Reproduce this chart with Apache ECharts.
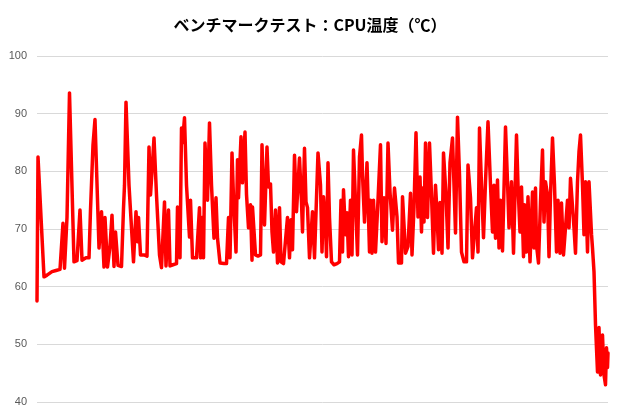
<!DOCTYPE html>
<html><head><meta charset="utf-8">
<script src="https://cdn.jsdelivr.net/npm/echarts@6/dist/echarts.min.js"></script>
<style>html,body{margin:0;padding:0;background:#fff}#c{width:620px;height:415px}</style>
</head><body><div id="c"></div>
<script>
const titleText = 'ベンチマークテスト：CPU温度（℃）';
const yTicks = [40, 50, 60, 70, 80, 90, 100];
const timeSec = [0,2,14,20,30,38,46,50,52,55,58,60,65,74,80,84,86,90,98,104,107,112,116,124,129,134,136,141,146,150,154,157,162,169,173,175,178,184,193,198,201,203,207,214,220,224,227,230,234,239,245,249,255,258,263,266,272,279,281,286,289,291,295,299,305,307,311,319,325,327,330,333,336,341,345,349,354,358,361,366,374,379,383,386,390,393,398,401,403,408,411,416,419,423,427,430,431,437,442,447,450,455,460,463,467,470,473,477,481,485,488,493,497,501,505,508,511,515,519,525,529,531,535,538,541,545,548,551,555,559,562,567,570,573,577,579,582,585,589,594,600,605,608,611,613,617,620,623,627,630,633,637,641,645,649,651,655,660,665,667,670,673,677,682,687,690,694,698,702,706,711,715,720,723,729,731,737,742,747,750,754,758,762,766,769,771,774,777,781,785,789,793,797,799,803,806,810,813,818,822,826,831,834,837,841,845,849,854,859,862,867,871,875,879,882,885,889,893,897,902,907,911,914,917,921,924,927,931,934,937,941,944,949,953,959,962,966,969,973,975,979,982,986,989,991,994,997,999,1003,1007,1011,1014,1017,1021,1024,1027,1031,1035,1039,1042,1046,1049,1053,1057,1061,1064,1067,1071,1074,1077,1081,1084,1087,1091,1094,1097,1101,1104,1109,1111,1114,1117,1121,1124,1127,1131,1134,1137,1139,1141,1142];
const cpuTemp = [57.5,82.5,61.7,62.0,62.6,62.8,63.0,63.2,71,63.2,63.5,72,93.6,64.3,64.5,64.6,73.3,64.6,65,65,73.3,84.6,89,66.7,73,63.4,72,63.4,67,72.4,63.5,69.5,63.7,63.5,73.6,77.6,92,77.6,64.3,73,67.8,72,65.5,65.5,65.3,84.2,75.9,80,85.8,75.9,65.5,63.3,74.7,63.6,73.3,63.6,63.8,64,73.8,65,87.5,85,89.3,77.6,68.6,75,65,65,73.7,65,72,65,84.9,75,88.4,77.6,68.4,75.4,68.4,64.1,64,64,72,65,83.2,75.4,66,82,75.4,86,78,86.8,76,70.2,74.2,64.6,73.8,65.5,65.3,65.5,84.6,70.7,84.2,77.3,77.8,69.5,66,73.3,64.1,73.7,64.3,64,64,72,65,71.6,66.4,82.8,73,82.3,74.7,69.5,84,74.7,73.7,65,65,73,65,65.2,83.2,77.6,66,75.6,70.7,65.2,81.5,72,64.3,63.8,64,64.3,75,66,76.8,69,72.8,65.2,75,65.5,83.7,74.7,65.5,82.5,86.3,79.4,71.2,81.5,66,75,65.8,75,66,75,84.6,67.8,75.4,67.5,84.9,76.4,69.8,77.1,72.1,64.1,64.1,75.6,65.8,67,76.2,65.5,73.8,86.7,72.1,79,69.5,77.1,71.2,84.9,72,84.9,75.9,65.8,77.6,74.5,66.4,74.6,65.8,83.2,75.9,66.7,81.5,85.8,77.6,69.3,89.4,79.4,66,64.3,64.3,81.1,75.4,65,65,73.7,66,87.5,77.6,68.5,78.2,88.6,77.6,69.5,77.6,68.4,78.5,66.7,75,66.2,66,87.7,78.2,70.2,78.2,65.8,86.3,77.6,69.5,77.3,65.2,74.2,66,75.6,64.3,64.3,76.4,66.7,77.1,67.2,64.1,74.7,83.7,71.2,78.2,75.9,65.2,75.9,85.8,77.6,66,75,65.8,74.5,65.5,65.2,75,70.2,78.8,78.8,70.2,65.8,78.2,83.4,86.3,77.6,69,78.2,66,78.2,69.1,66.7,62.6,53.4,45.2,52.9,44.7,51.6,44.7,43,49.4,46,48.5];

const seriesData = timeSec.map((t, i) => [t, cpuTemp[i]]);
const chart = echarts.init(document.getElementById('c'), null, {renderer: 'canvas'});
chart.setOption({
  animation: false,
  backgroundColor: '#ffffff',
  title: {
    text: titleText, left: 'center', top: 12,
    textStyle: {fontFamily: 'Noto Sans CJK JP', fontWeight: 'bold', fontSize: 16, color: '#000'}
  },
  grid: {left: 37, right: 12, top: 56, bottom: 13, containLabel: false},
  xAxis: {
    type: 'value', min: 0, max: timeSec[timeSec.length - 1],
    show: true, axisLine: {show: false}, axisTick: {show: false},
    axisLabel: {show: false}, splitLine: {show: false}
  },
  yAxis: {
    type: 'value', min: yTicks[0], max: yTicks[yTicks.length - 1], interval: 10,
    axisLine: {show: false}, axisTick: {show: false},
    axisLabel: {color: '#595959', fontSize: 11, fontFamily: 'Liberation Sans', margin: 10},
    splitLine: {lineStyle: {color: '#d9d9d9', width: 1}}
  },
  series: [{
    type: 'line', data: seriesData, showSymbol: false, symbol: 'none',
    lineStyle: {color: '#ff0000', width: 3.5, join: 'round', cap: 'round'},
    itemStyle: {color: '#ff0000'}
  }]
});
</script></body></html>
